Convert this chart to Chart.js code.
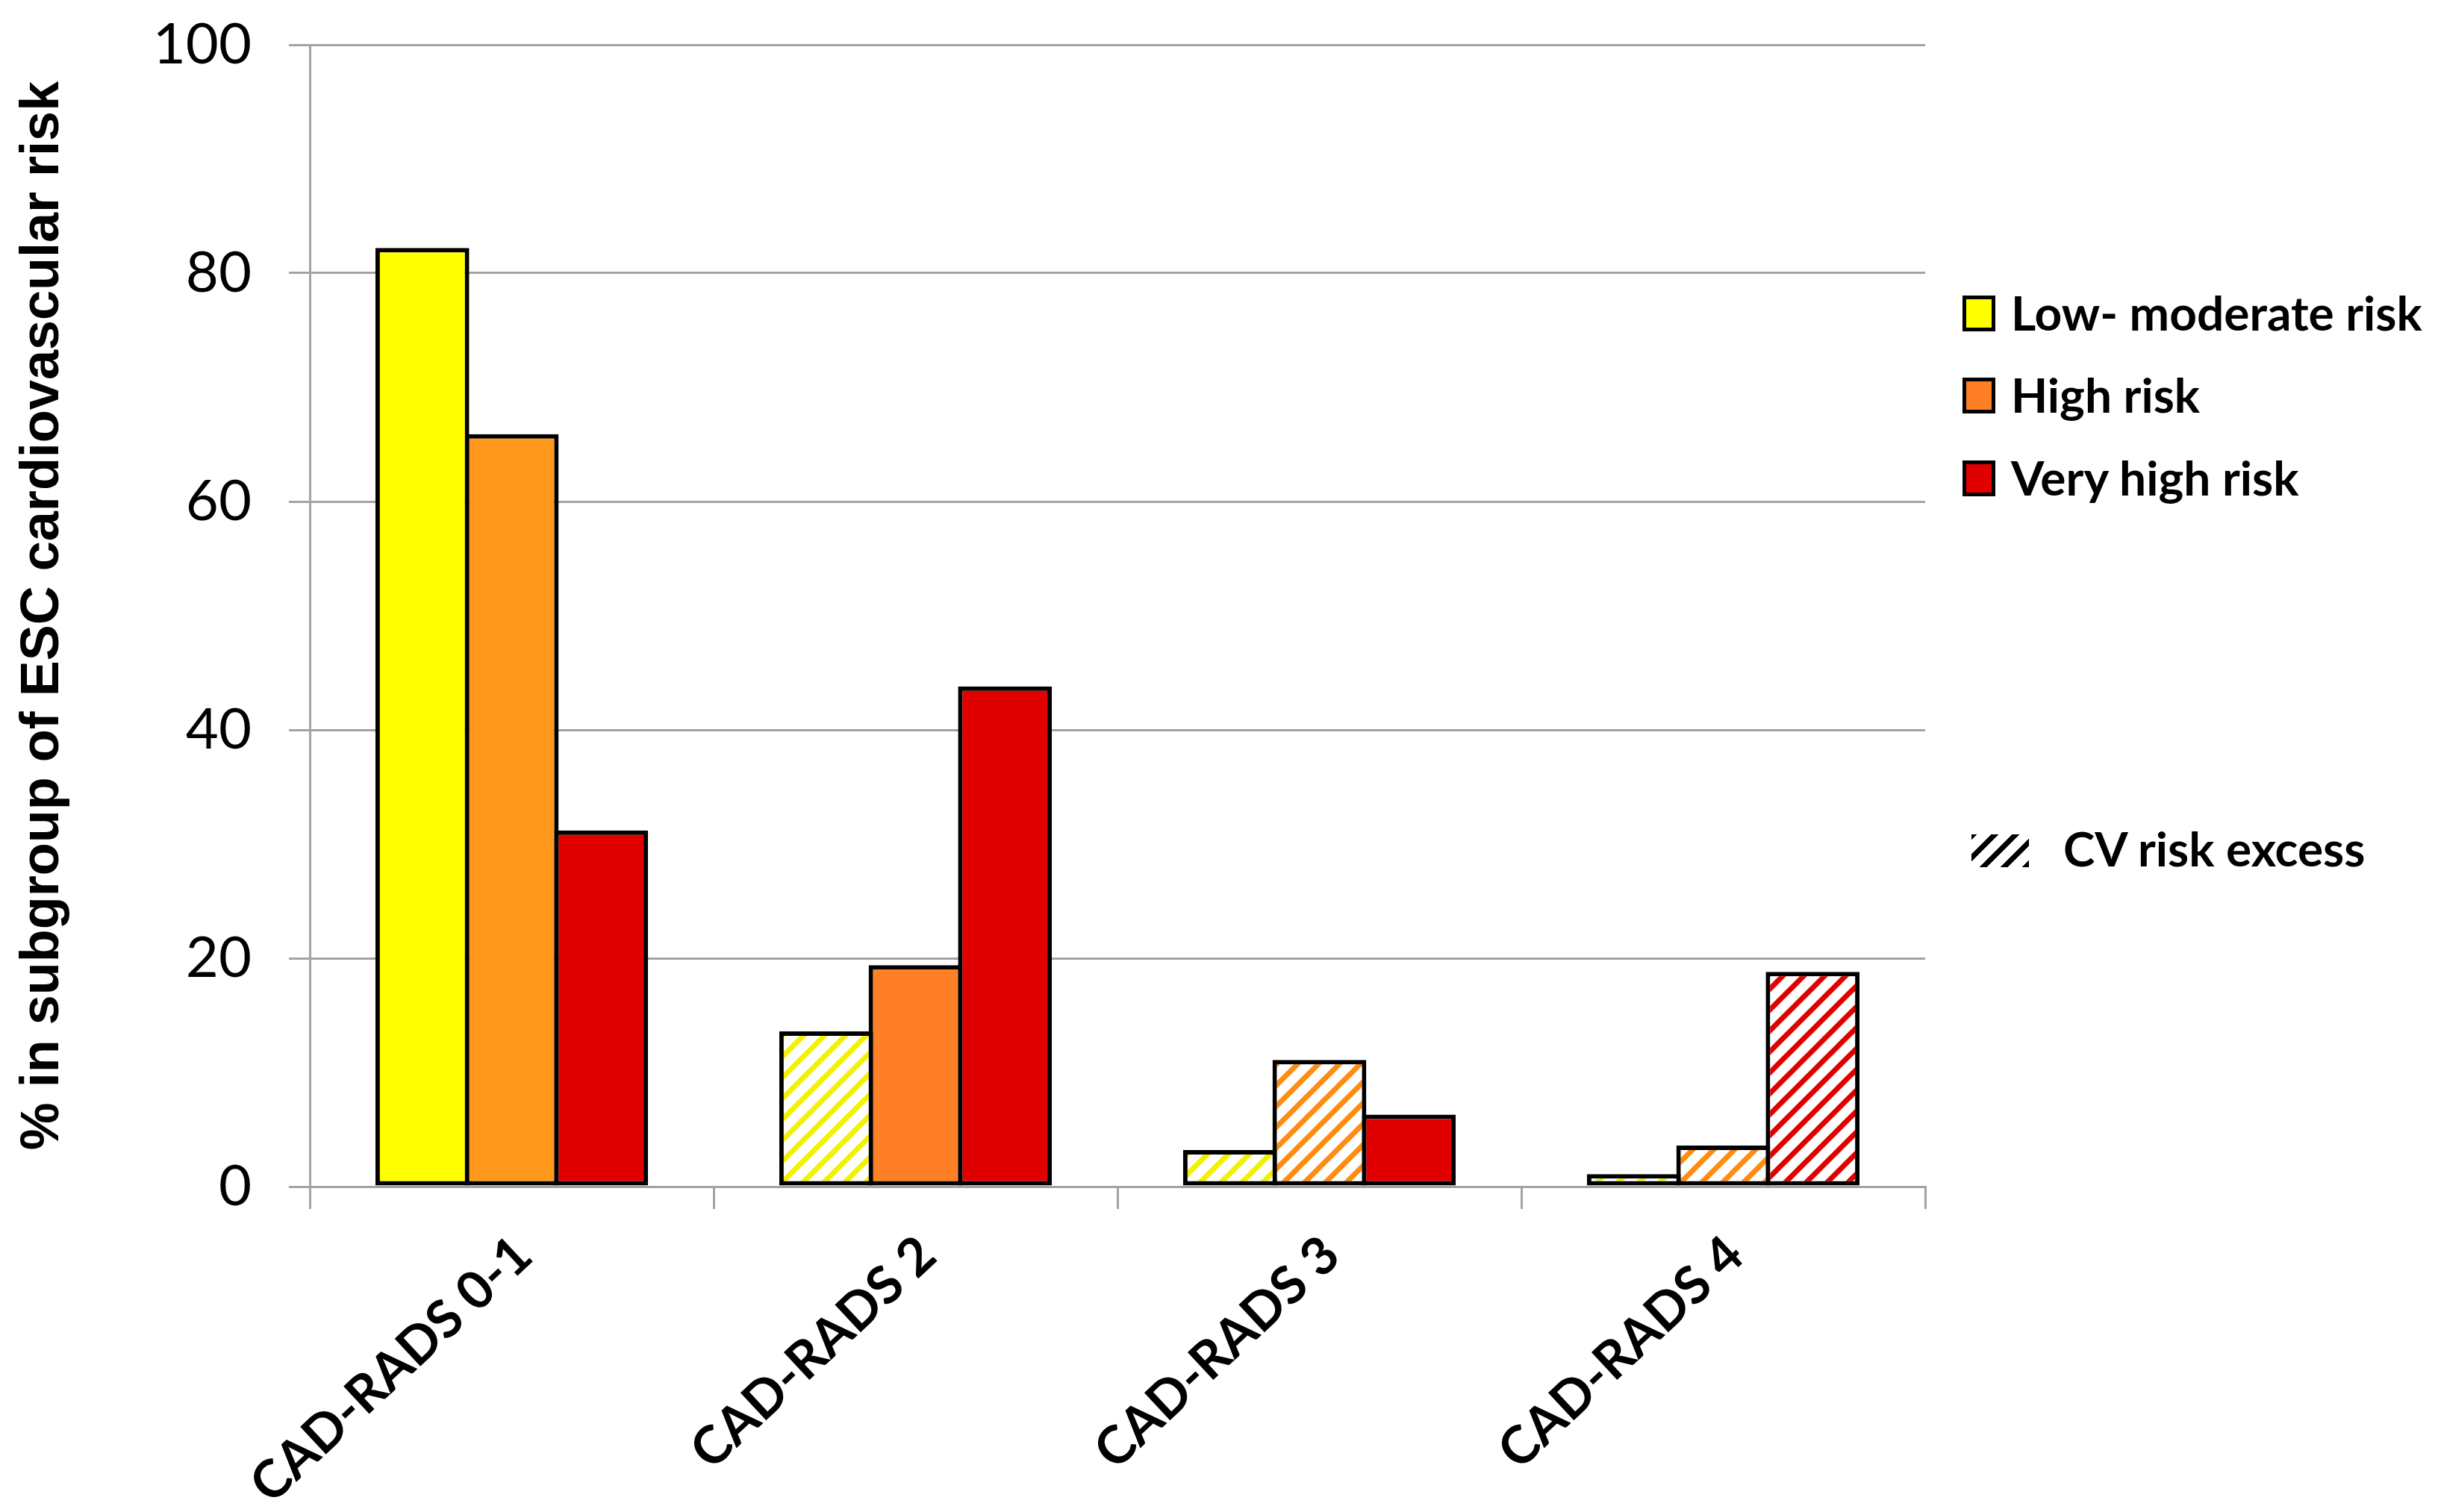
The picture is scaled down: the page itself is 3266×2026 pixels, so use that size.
<!DOCTYPE html>
<html>
<head>
<meta charset="utf-8">
<script src="https://cdn.jsdelivr.net/npm/chart.js@4/dist/chart.umd.min.js"></script>
<style>
  body { margin: 0; background: #fff; }
  #wrap { position: relative; width: 3266px; height: 2026px; }
  .leg { position: absolute; font-family: Lato, sans-serif; font-weight: bold; font-size: 64px; color: #000; white-space: nowrap; line-height: 1; }
  .box { position: absolute; width: 34px; height: 38px; border: 5px solid #000; }
  .hatch { position: absolute; width: 77px; height: 44px;
    background: repeating-linear-gradient(-45deg, #000 0 7px, transparent 7px 20px); }
</style>
</head>
<body>
<div id="wrap">
  <canvas id="chart" width="3266" height="2026"></canvas>
  <div class="box" style="left:2629px; top:396px; background:#FFFF00"></div>
  <div class="leg" style="left:2694px; top:387px">Low- moderate risk</div>
  <div class="box" style="left:2629px; top:506px; background:#FF7F27"></div>
  <div class="leg" style="left:2694px; top:497px">High risk</div>
  <div class="box" style="left:2629px; top:617px; background:#E00000"></div>
  <div class="leg" style="left:2694px; top:608px">Very high risk</div>
  <div class="hatch" style="left:2641px; top:1118px"></div>
  <div class="leg" style="left:2764px; top:1105px">CV risk excess</div>
</div>
<script>
const categories = ['CAD-RADS 0-1', 'CAD-RADS 2', 'CAD-RADS 3', 'CAD-RADS 4'];
const lowModerate = [82.2, 13.6, 3.2, 1.1];
const high = [65.9, 19.4, 11.1, 3.6];
const veryHigh = [31.2, 43.8, 6.3, 18.8];
// which bars show the CV risk excess (hatched)
const lowExcess = [false, true, true, true];
const highExcess = [false, false, true, true];
const veryHighExcess = [false, false, false, true];
const yTicks = [0, 20, 40, 60, 80, 100];

const gray = '#A3A3A3';

function hatch(color) {
    const size = 28;
    const c = document.createElement('canvas');
    c.width = size;
    c.height = size;
    const g = c.getContext('2d');
    g.fillStyle = '#fff';
    g.fillRect(0, 0, size, size);
    g.strokeStyle = color;
    g.lineWidth = 7;
    for (const k of [-size, 0, size]) {
        g.beginPath();
        g.moveTo(k - 4, size + 4);
        g.lineTo(k + size + 4, -4);
        g.stroke();
    }
    return g.createPattern(c, 'repeat');
}

function fills(excess, solid, stripe) {
    return excess.map((ex, i) => ex ? hatch(stripe) : (Array.isArray(solid) ? solid[i] : solid));
}

function makeDataset(label, data, bg) {
    return {
        label: label,
        data: data,
        backgroundColor: bg,
        borderColor: '#000',
        borderWidth: 6,
        borderSkipped: false,
        categoryPercentage: 0.664,
        barPercentage: 1.05
    };
}

new Chart(document.getElementById('chart'), {
    type: 'bar',
    data: {
        labels: categories,
        datasets: [
            makeDataset('Low- moderate risk', lowModerate, fills(lowExcess, '#FFFF00', '#F2F200')),
            makeDataset('High risk', high, fills(highExcess, ['#FF981C', '#FF7F27', '#FF7F27', '#FF7F27'], '#FF8C10')),
            makeDataset('Very high risk', veryHigh, fills(veryHighExcess, '#E00000', '#E00000'))
        ]
    },
    options: {
        responsive: false,
        animation: false,
        layout: { padding: { top: 60, right: 687, left: 0, bottom: 0 } },
        plugins: {
            legend: { display: false },
            tooltip: { enabled: false }
        },
        scales: {
            x: {
                afterFit: (s) => { s.height = 436; },
                grid: {
                    offset: true,
                    drawOnChartArea: false,
                    drawTicks: true,
                    tickLength: 30,
                    color: gray,
                    lineWidth: 3
                },
                border: { color: gray, width: 3 },
                ticks: {
                    minRotation: 43,
                    maxRotation: 43,
                    padding: 20,
                    labelOffset: 16,
                    color: '#000',
                    font: { family: 'Lato', weight: 'bold', size: 70 }
                }
            },
            y: {
                min: 0,
                max: 100,
                afterFit: (s) => {
                    s.width = 415;
                    s.paddingTop = 0;
                    s.paddingBottom = 0;
                },
                afterBuildTicks: (s) => { s.ticks = yTicks.map(v => ({ value: v })); },
                grid: { color: gray, lineWidth: 3, tickLength: 28 },
                border: { color: gray, width: 3 },
                ticks: {
                    padding: 50,
                    color: '#000',
                    font: { family: 'Lato', size: 76 }
                },
                title: {
                    display: true,
                    text: '% in subgroup of ESC cardiovascular risk',
                    color: '#000',
                    padding: { top: 15, bottom: 0 },
                    font: { family: 'Liberation Sans', weight: 'bold', size: 72 }
                }
            }
        }
    }
});
</script>
</body>
</html>
